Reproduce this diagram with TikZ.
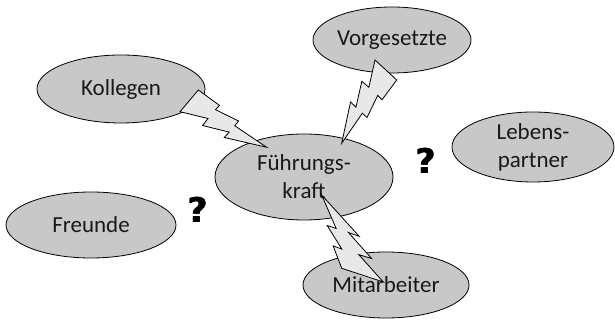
\documentclass[tikz,border=0pt]{standalone}
\usepackage{fontspec}
\setmainfont{Carlito}
\newfontfamily\qfont{DejaVu Sans}
\usetikzlibrary{shapes.geometric}
\definecolor{ellgray}{RGB}{200,200,200}
\definecolor{boltgray}{RGB}{232,232,232}
\newcommand{\mybolt}[1]{%
  \begin{scope}[cm={#1}]
    \draw[boltstyle] (0.3922,0) -- (0.5954,0.2815) -- (0.5116,0.3147) -- (0.7675,0.5559)
      -- (0.6837,0.5962) -- (1,1) -- (0.4635,0.6905) -- (0.5658,0.6475)
      -- (0.2325,0.4493) -- (0.3519,0.3881) -- (0,0.1801) -- cycle;
  \end{scope}}
\newcommand{\heavyq}{\qfont\bfseries\fontsize{34}{34}\selectfont
  \makebox[0pt][l]{\kern-0.6pt?}\makebox[0pt][l]{\kern0.6pt?}?}
\tikzset{
  ell/.style={ellipse, draw=black, line width=0.8pt, fill=ellgray, inner sep=0pt,
    align=center, font=\fontsize{23}{28}\selectfont, text=black!90},
  boltstyle/.style={draw=black, line width=0.8pt, fill=boltgray},
  qmark/.style={inner sep=0pt}
}
\begin{document}
\begin{tikzpicture}[x=1pt,y=1pt]
\useasboundingbox (0,0) rectangle (615,320);
\node[ell, minimum width=168pt, minimum height=68pt] (koll) at (121,231) {Kollegen};
\node[ell, minimum width=158pt, minimum height=66pt] (vorg) at (392,280) {Vorgesetzte};
\node[ell, minimum width=178pt, minimum height=86pt] (fk) at (304,143) {Führungs-\\kraft};
\node[ell, minimum width=162pt, minimum height=70pt] (leb) at (533,173) {Lebens-\\partner};
\node[ell, minimum width=170pt, minimum height=66pt] (fr) at (91,95) {Freunde};
\node[ell, minimum width=166pt, minimum height=66pt] (mit) at (386,35) {Mitarbeiter};
% lightning bolts (Kollegen -> Führungskraft, Vorgesetzte -> Führungskraft, Mitarbeiter -> Führungskraft)
\mybolt{61.0,22.7,31.3,-71.1,(174.4,221.1)}
\mybolt{23.5,-62.6,-69.3,-25.25,(387.5,264.55)}
\mybolt{-90.1,53.6,34.76,40.7,(377.0,30.7)}
\node[qmark] (q1) at (426,159) {\heavyq};
\node[qmark] (q2) at (198,110.5) {\heavyq};
\end{tikzpicture}
\end{document}
